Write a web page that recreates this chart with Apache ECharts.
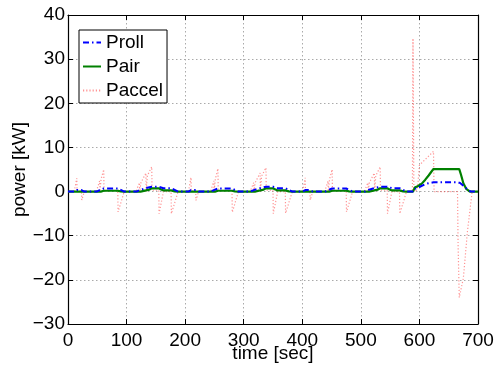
<!DOCTYPE html>
<html>
<head>
<meta charset="utf-8">
<script src="https://cdn.jsdelivr.net/npm/echarts@6/dist/echarts.min.js"></script>
<style>
  html, body { margin: 0; padding: 0; background: #fff; }
  #chart { width: 497px; height: 368px; }
</style>
</head>
<body>
<div id="chart"></div>
<script>
// ticks
var xTicks = [0, 100, 200, 300, 400, 500, 600, 700];
var yTicks = [-30, -20, -10, 0, 10, 20, 30, 40];

// [time sec, kW]
var prollPts = [
  [0,0],[11,0],[15,0.33],[23,0.33],[28,0],[49,0],[54,0.33],[56,0.33],[61,0.7],[85,0.7],[96,0],
  [117,0],[122,0.33],[124,0.33],[133,0.77],[135,0.77],[143,1.1],[155,1.1],[163,0.77],[176,0.77],[188,0],
  [206,0],[210,0.33],[218,0.33],[223,0],[244,0],[249,0.33],[251,0.33],[256,0.7],[280,0.7],[291,0],
  [312,0],[317,0.33],[319,0.33],[328,0.77],[330,0.77],[338,1.1],[350,1.1],[358,0.77],[371,0.77],[383,0],
  [401,0],[405,0.33],[413,0.33],[418,0],[439,0],[444,0.33],[446,0.33],[451,0.7],[475,0.7],[486,0],
  [507,0],[512,0.33],[514,0.33],[523,0.77],[525,0.77],[533,1.1],[545,1.1],[553,0.77],[566,0.77],[578,0],
  [589,0],[592,0.6],[598,0.9],[604,1.3],[610,1.7],[616,1.9],[624,2.1],[666,2.1],[670,1.9],[676,1.2],
  [682,0.5],[688,0],[700,0]
];

var pairPts = [
  [0,0],[56,0],[61,0.19],[85,0.19],[90,0.03],[96,0],[124,0],[133,0.26],[135,0.26],[139,0.45],
  [143,0.74],[155,0.74],[159,0.45],[163,0.26],[176,0.26],[182,0.05],[188,0],
  [251,0],[256,0.19],[280,0.19],[285,0.03],[291,0],[319,0],[328,0.26],[330,0.26],[334,0.45],
  [338,0.74],[350,0.74],[354,0.45],[358,0.26],[371,0.26],[377,0.05],[383,0],
  [446,0],[451,0.19],[475,0.19],[480,0.03],[486,0],[514,0],[523,0.26],[525,0.26],[529,0.45],
  [533,0.74],[545,0.74],[549,0.45],[553,0.26],[566,0.26],[572,0.05],[578,0],
  [589,0],[592,0.9],[597,1.2],[604,1.8],[610,2.7],[616,3.7],[621,4.6],[624,5.1],[668,5.1],
  [671,3.8],[675,1.9],[680,0.6],[686,0],[700,0]
];

var paccelPts = [
  [0,0],[11,0],[11.5,0.6],[15,3.0],[15.5,0.1],[23,0.1],[23.5,-1.9],[28,0],[49,0],[49.5,0.5],[54,2.4],
  [54.5,0],[56,0],[56.5,2.8],[61,5.0],[61.5,0.2],[85,0.2],[85.5,-4.6],[96,0],[117,0],[117.5,0.5],
  [122,2.0],[122.5,0],[124,0],[124.5,2.0],[133,4.2],[133.5,0],[135,0],[135.5,3.6],[143,5.6],
  [143.5,0.3],[155,0.3],[155.5,-5.0],[163,0],[176,0],[176.5,-5.0],[188,0],
  [206,0],[206.5,0.6],[210,3.2],[210.5,0.1],[218,0.1],[218.5,-2.0],[223,0],[244,0],[244.5,0.5],
  [249,2.4],[249.5,0],[251,0],[251.5,2.8],[256,5.2],[256.5,0.2],[280,0.2],[280.5,-4.7],[291,0],
  [312,0],[312.5,0.5],[317,2.0],[317.5,0],[319,0],[319.5,2.0],[328,4.2],[328.5,0],[330,0],
  [330.5,3.5],[338,5.4],[338.5,0.3],[350,0.3],[350.5,-5.0],[358,0],[371,0],[371.5,-4.9],[383,0],
  [401,0],[401.5,0.6],[405,3.1],[405.5,0.1],[413,0.1],[413.5,-1.9],[418,0],[439,0],[439.5,0.5],
  [444,2.4],[444.5,0],[446,0],[446.5,2.8],[451,5.0],[451.5,0.2],[475,0.2],[475.5,-4.6],[486,0],
  [507,0],[507.5,0.5],[512,2.0],[512.5,0],[514,0],[514.5,2.0],[523,4.2],[523.5,0],[525,0],
  [525.5,3.6],[533,5.6],[533.5,0.3],[545,0.3],[545.5,-5.0],[553,0],[566,0],[566.5,-5.0],[578,0],
  [588,0],[589,34.7],[590.5,0],[595,0.3],[597,1.1],[600,6.0],[624,9.1],[625,0],[665,0],
  [666,-12],[668,-24],[675,-19.6],[682,-9],[686,-4.5],[690,0],[700,0]
];

var font = 'Liberation Sans, Arial, Helvetica, sans-serif';
var chart = echarts.init(document.getElementById('chart'));

function fmt(v) {
  return v < 0 ? '\u2212' + Math.abs(v) : String(v);
}

// fresh objects for every axis; onZero off so the frame axes stay on the edges
function frameLine() { return { show: true, onZero: false, lineStyle: { color: '#000', width: 1.2 } }; }
function frameTick() { return { show: true, inside: true, length: 5, lineStyle: { color: '#000', width: 1 } }; }
function gridLine() { return { show: true, lineStyle: { color: '#aaa', type: [1.5, 2.5], width: 1 } }; }

var option = {
  animation: false,
  backgroundColor: '#fff',
  grid: { left: 68, top: 15, right: 19, bottom: 44, outerBoundsMode: 'none', containLabel: false },
  legend: {
    orient: 'vertical',
    left: 79, top: 30,
    padding: [3, 4, 3, 3],
    itemGap: 5,
    itemWidth: 18, itemHeight: 18,
    backgroundColor: '#fff',
    borderColor: '#000', borderWidth: 1,
    itemStyle: { opacity: 0 },
    textStyle: { fontFamily: font, fontSize: 19, color: '#000', lineHeight: 19 },
    data: ['Proll', 'Pair', 'Paccel']
  },
  xAxis: [{
    type: 'value', position: 'bottom', min: 0, max: 700, interval: 100,
    name: 'time [sec]', nameLocation: 'middle', nameGap: 20, nameMoveOverlap: false,
    nameTextStyle: { fontFamily: font, fontSize: 19, color: '#000' },
    axisLine: frameLine(), axisTick: frameTick(),
    axisLabel: { fontFamily: font, fontSize: 19, color: '#000', margin: 7,
      formatter: function (v) { return xTicks.indexOf(v) >= 0 ? fmt(v) : ''; } },
    splitLine: gridLine()
  }, {
    type: 'value', position: 'top', min: 0, max: 700, interval: 100,
    axisLine: frameLine(), axisTick: frameTick(),
    axisLabel: { show: false }, splitLine: { show: false }
  }],
  yAxis: [{
    type: 'value', position: 'left', min: -30, max: 40, interval: 10,
    name: 'power [kW]', nameLocation: 'middle', nameGap: 39, nameMoveOverlap: false,
    nameTextStyle: { fontFamily: font, fontSize: 19, color: '#000' },
    axisLine: frameLine(), axisTick: frameTick(),
    axisLabel: { fontFamily: font, fontSize: 19, color: '#000', margin: 3,
      formatter: function (v) { return yTicks.indexOf(v) >= 0 ? fmt(v) : ''; } },
    splitLine: gridLine()
  }, {
    type: 'value', position: 'right', min: -30, max: 40, interval: 10,
    axisLine: frameLine(), axisTick: frameTick(),
    axisLabel: { show: false }, splitLine: { show: false }
  }],
  series: [
    {
      name: 'Proll', type: 'line', data: prollPts, showSymbol: false, z: 4,
      color: '#0000ff',
      lineStyle: { color: '#0000ff', width: 2, type: [6, 3, 1.5, 3] }
    },
    {
      name: 'Pair', type: 'line', data: pairPts, showSymbol: false, z: 3,
      color: '#008000',
      lineStyle: { color: '#008000', width: 2.2, type: 'solid' }
    },
    {
      name: 'Paccel', type: 'line', data: paccelPts, showSymbol: false, z: 2,
      color: '#ff9090',
      lineStyle: { color: 'rgba(255,60,60,0.55)', width: 1.2, type: [1.2, 2] }
    }
  ]
};

chart.setOption(option);
</script>
</body>
</html>
